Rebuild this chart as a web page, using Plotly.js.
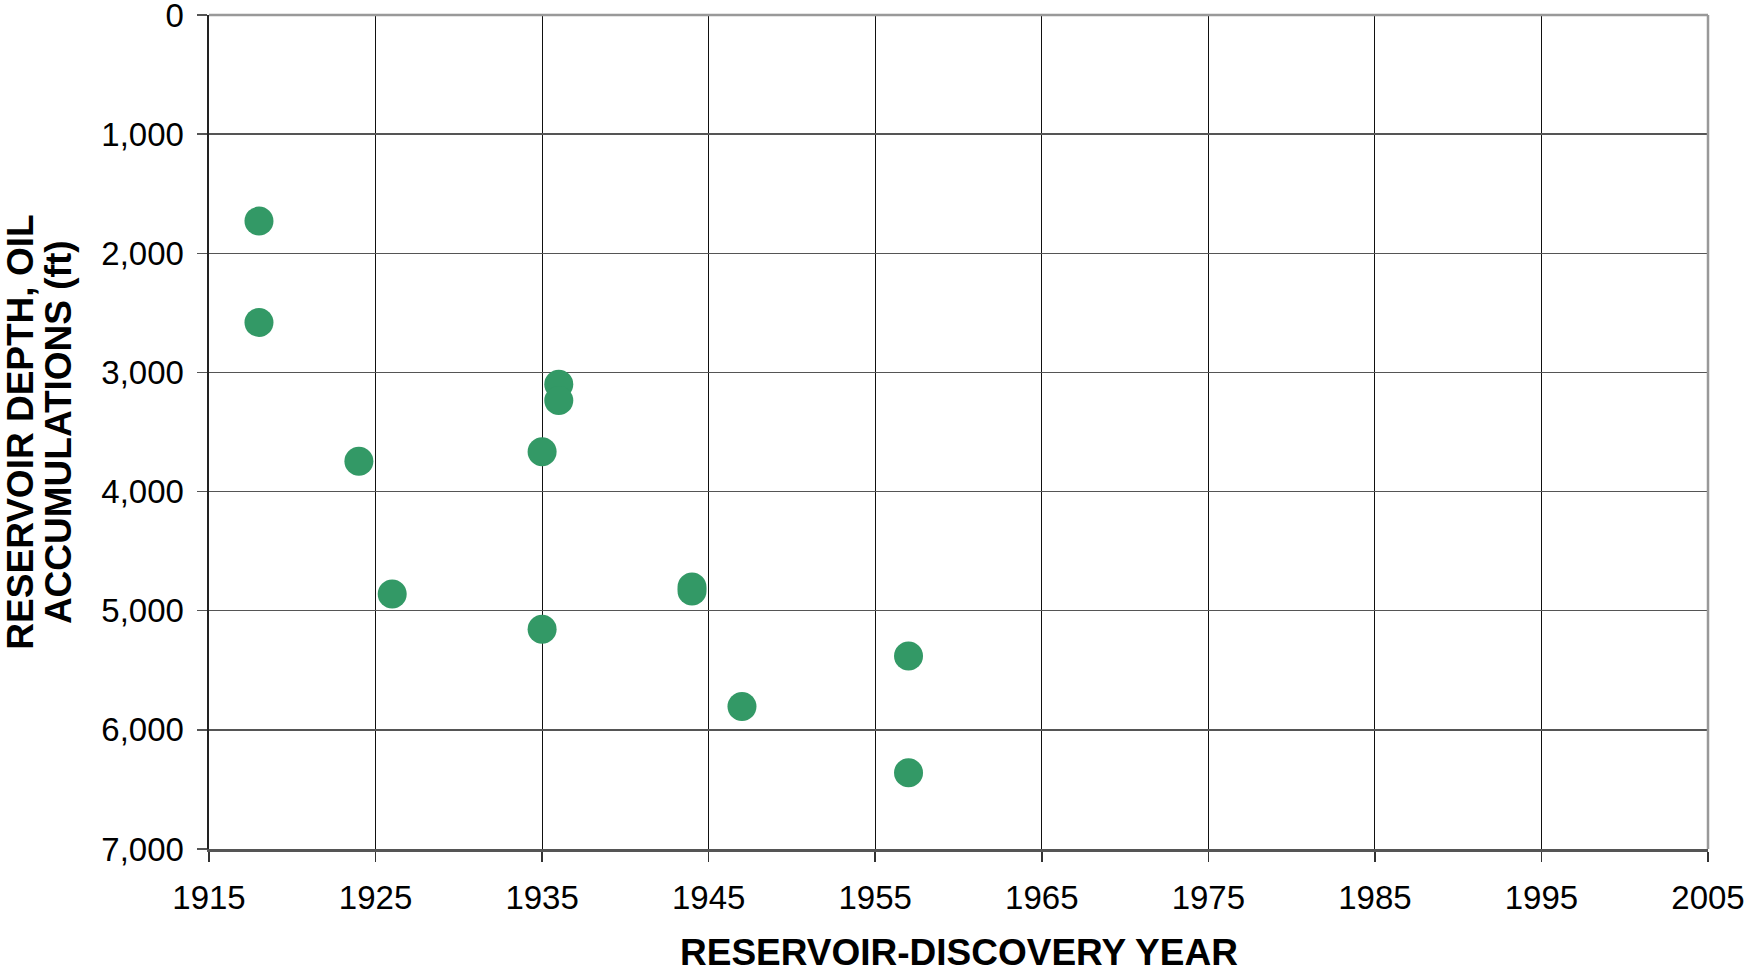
<!DOCTYPE html>
<html>
<head>
<meta charset="utf-8">
<script src="https://cdn.plot.ly/plotly-3.0.1.min.js"></script>
<style>html,body{margin:0;padding:0;background:#fff;}#chart{width:1747px;height:970px;}</style>
</head>
<body>
<div id="chart"></div>
<script>
const discoveryYear = [1918, 1918, 1924, 1926, 1935, 1935, 1936, 1936, 1944, 1944, 1947, 1957, 1957];
const reservoirDepth = [1730, 2580, 3745, 4860, 3665, 5155, 3100, 3235, 4800, 4835, 5805, 5380, 6360];
const xTickVals = [1915, 1925, 1935, 1945, 1955, 1965, 1975, 1985, 1995, 2005];
const yTickVals = [0, 1000, 2000, 3000, 4000, 5000, 6000, 7000];
const yTickText = ['0', '1,000', '2,000', '3,000', '4,000', '5,000', '6,000', '7,000'];
const xTitle = 'RESERVOIR-DISCOVERY YEAR';
const yTitleLines = ['RESERVOIR DEPTH, OIL', 'ACCUMULATIONS (ft)'];

const font = "Liberation Sans, Arial, sans-serif";
const L = 208.5, R = 38.5, T = 15, B = 120.7, W = 1747, H = 970;
const plotW = W - L - R;
const plotH = H - T - B;

const trace = {
  x: discoveryYear,
  y: reservoirDepth,
  type: 'scatter',
  mode: 'markers',
  marker: {size: 29, color: '#339966', line: {width: 0}},
  hoverinfo: 'x+y',
  showlegend: false,
  cliponaxis: false
};

const layout = {
  width: W,
  height: H,
  margin: {l: L, r: R, t: T, b: B},
  paper_bgcolor: '#ffffff',
  plot_bgcolor: '#ffffff',
  font: {family: font, color: '#000'},
  xaxis: {
    range: [1915, 2005],
    tickvals: xTickVals,
    ticktext: xTickVals.map(String),
    tickfont: {size: 33, family: font, color: '#000'},
    ticks: 'outside', ticklen: 10, tickwidth: 1.5, tickcolor: '#333',
    ticklabelstandoff: 8,
    ticklabeloverflow: 'allow',
    showgrid: true, gridcolor: '#111', gridwidth: 1.2,
    showline: true, linecolor: '#555', linewidth: 2.5,
    zeroline: false
  },
  yaxis: {
    range: [7000, 0],
    tickvals: yTickVals,
    ticktext: yTickText,
    tickfont: {size: 33, family: font, color: '#000'},
    ticks: 'outside', ticklen: 10, tickwidth: 1.5, tickcolor: '#555',
    ticklabelstandoff: 6,
    ticklabeloverflow: 'allow',
    showgrid: true, gridcolor: '#555', gridwidth: 1.5,
    showline: true, linecolor: '#222', linewidth: 2.5,
    zeroline: false
  },
  annotations: [
    {text: '<b>' + xTitle + '</b>', xref: 'paper', yref: 'paper', x: 0.5, y: -(953 - (H - B)) / plotH,
     xanchor: 'center', yanchor: 'middle', showarrow: false, borderpad: 0,
     font: {size: 37, family: font, color: '#000'}},
    {text: '<b>' + yTitleLines[0] + '</b>', xref: 'paper', yref: 'paper', x: (19 - L) / plotW, y: 0.5,
     xanchor: 'center', yanchor: 'middle', textangle: -90, showarrow: false,
     font: {size: 37, family: font, color: '#000'}},
    {text: '<b>' + yTitleLines[1] + '</b>', xref: 'paper', yref: 'paper', x: (57.5 - L) / plotW, y: 0.5,
     xanchor: 'center', yanchor: 'middle', textangle: -90, showarrow: false,
     font: {size: 37, family: font, color: '#000'}}
  ],
  shapes: [
    {type: 'line', xref: 'paper', yref: 'paper', x0: 0, x1: 1, y0: 1, y1: 1, line: {color: '#999', width: 2.5}},
    {type: 'line', xref: 'paper', yref: 'paper', x0: 1, x1: 1, y0: 0, y1: 1, line: {color: '#999', width: 2.5}}
  ]
};

Plotly.newPlot('chart', [trace], layout, {displayModeBar: false, staticPlot: true});
</script>
</body>
</html>
